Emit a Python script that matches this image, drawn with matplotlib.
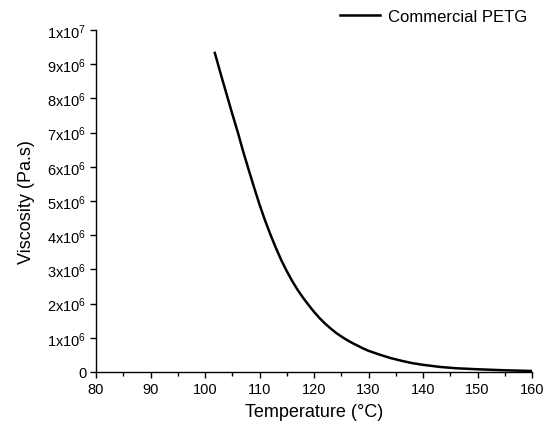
import matplotlib
matplotlib.use("Agg")
import matplotlib.pyplot as plt
from matplotlib.ticker import MultipleLocator, FuncFormatter

plt.rcParams['font.family'] = ['Liberation Sans', 'DejaVu Sans']
plt.rcParams['mathtext.fontset'] = 'custom'
plt.rcParams['mathtext.rm'] = 'Liberation Sans'
plt.rcParams['mathtext.it'] = 'Liberation Sans'

temperature = [101.8, 103, 104, 105, 106, 107, 108, 109, 110, 111, 112, 113, 114, 115,
               116, 117, 118, 119, 120, 121, 122, 123, 124, 125, 126, 127, 128, 129,
               130, 132, 134, 136, 138, 140, 143, 146, 150, 155, 160]
viscosity = [9.33e6, 8.65e6, 8.10e6, 7.55e6, 7.02e6, 6.45e6, 5.92e6, 5.40e6, 4.90e6,
             4.44e6, 4.02e6, 3.63e6, 3.27e6, 2.95e6, 2.66e6, 2.40e6, 2.17e6, 1.96e6,
             1.76e6, 1.58e6, 1.42e6, 1.28e6, 1.15e6, 1.04e6, 0.94e6, 0.85e6, 0.77e6,
             0.69e6, 0.62e6, 0.51e6, 0.41e6, 0.33e6, 0.26e6, 0.21e6, 0.15e6, 0.11e6,
             0.08e6, 0.05e6, 0.03e6]
series_label = "Commercial PETG"
x_ticks = [80, 90, 100, 110, 120, 130, 140, 150, 160]

fig = plt.figure(figsize=(5.45, 4.27), dpi=100)
ax = fig.add_axes([96/545, 1-373/427, (532-96)/545, (373-31)/427])

ax.plot(temperature, viscosity, color='black', lw=1.8, label=series_label)
ax.set_xlim(80, 160)
ax.set_ylim(0, 1e7)
ax.set_xticks(x_ticks)
ax.xaxis.set_minor_locator(MultipleLocator(5))
ax.yaxis.set_major_locator(MultipleLocator(1e6))

def yfmt(v, pos):
    if v == 0:
        return "0"
    e = 0
    m = v
    while m >= 10:
        m /= 10
        e += 1
    return r"%dx10$^{%d}$" % (round(m), e)

ax.yaxis.set_major_formatter(FuncFormatter(yfmt))

for s in ['top', 'right']:
    ax.spines[s].set_visible(False)
for s in ['left', 'bottom']:
    ax.spines[s].set_linewidth(1.0)
ax.tick_params(which='major', direction='out', length=4, width=1, labelsize=10.5, pad=3)
ax.tick_params(which='minor', direction='out', length=3, width=1)

ax.set_xlabel("Temperature (°C)", fontsize=13, labelpad=5)
ax.set_ylabel("Viscosity (Pa.s)", fontsize=13, labelpad=9)

ax.legend(loc='upper right', bbox_to_anchor=(537/545, 427/427), bbox_transform=fig.transFigure,
          frameon=False, fontsize=12, handlelength=2.4, handletextpad=0.45, borderaxespad=0.2)

fig.savefig("out.png", dpi=100)
